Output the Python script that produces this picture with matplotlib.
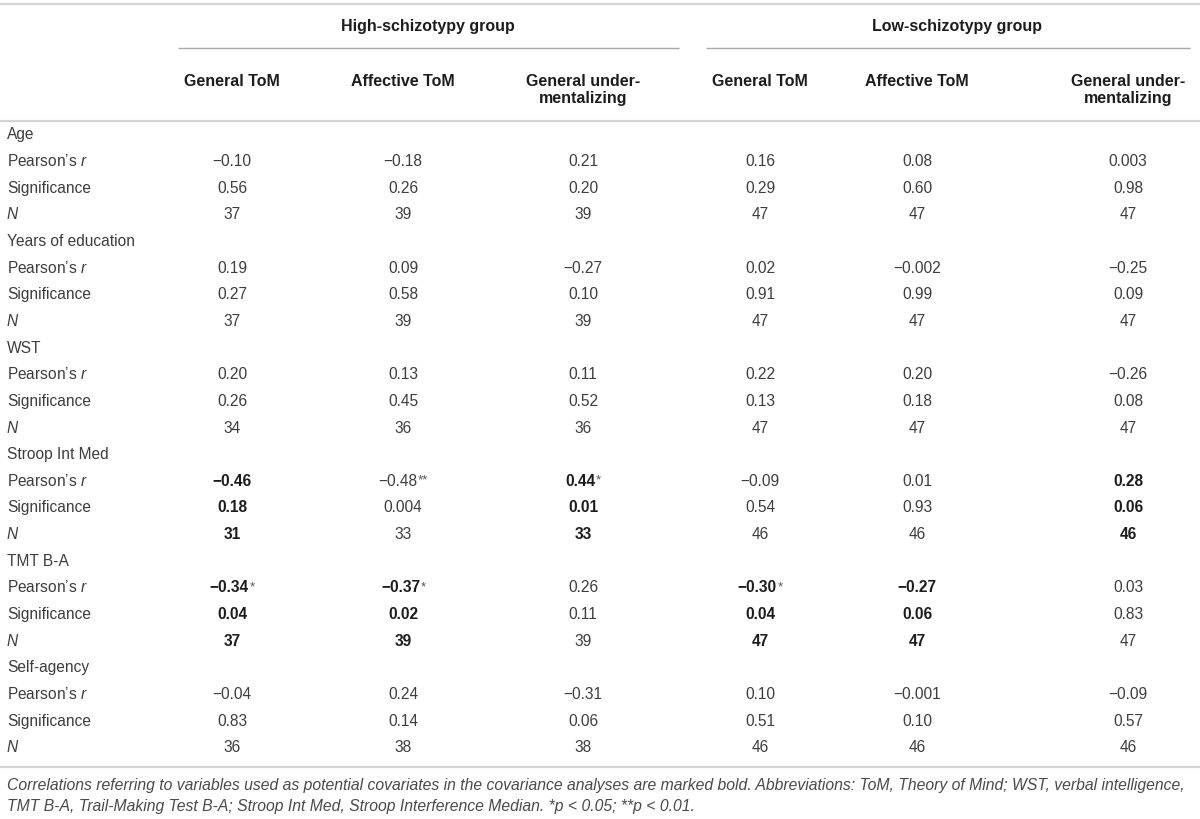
import matplotlib
matplotlib.use("Agg")
import matplotlib.pyplot as plt

# ---------------- data ----------------
groups = ["High-schizotypy group", "Low-schizotypy group"]
columns = ["General ToM", "Affective ToM", "General under-\nmentalizing",
           "General ToM", "Affective ToM", "General under-\nmentalizing"]
sections = ["Age", "Years of education", "WST", "Stroop Int Med", "TMT B-A", "Self-agency"]

age_r = ["\u22120.10", "\u22120.18", "0.21", "0.16", "0.08", "0.003"]
age_p = ["0.56", "0.26", "0.20", "0.29", "0.60", "0.98"]
age_n = ["37", "39", "39", "47", "47", "47"]

edu_r = ["0.19", "0.09", "\u22120.27", "0.02", "\u22120.002", "\u22120.25"]
edu_p = ["0.27", "0.58", "0.10", "0.91", "0.99", "0.09"]
edu_n = ["37", "39", "39", "47", "47", "47"]

wst_r = ["0.20", "0.13", "0.11", "0.22", "0.20", "\u22120.26"]
wst_p = ["0.26", "0.45", "0.52", "0.13", "0.18", "0.08"]
wst_n = ["34", "36", "36", "47", "47", "47"]

stroop_r = ["\u22120.46", "\u22120.48", "0.44", "\u22120.09", "0.01", "0.28"]
stroop_stars = ["", "**", "*", "", "", ""]
stroop_p = ["0.18", "0.004", "0.01", "0.54", "0.93", "0.06"]
stroop_n = ["31", "33", "33", "46", "46", "46"]
stroop_bold = [0, 2, 5]

tmt_r = ["\u22120.34", "\u22120.37", "0.26", "\u22120.30", "\u22120.27", "0.03"]
tmt_stars = ["*", "*", "", "*", "", ""]
tmt_p = ["0.04", "0.02", "0.11", "0.04", "0.06", "0.83"]
tmt_n = ["37", "39", "39", "47", "47", "47"]
tmt_bold = [0, 1, 3, 4]

self_r = ["\u22120.04", "0.24", "\u22120.31", "0.10", "\u22120.001", "\u22120.09"]
self_p = ["0.83", "0.14", "0.06", "0.51", "0.10", "0.57"]
self_n = ["36", "38", "38", "46", "46", "46"]

footnote1 = ("Correlations referring to variables used as potential covariates in the covariance "
             "analyses are marked bold. Abbreviations: ToM, Theory of Mind; WST, verbal intelligence,")
footnote2 = ("TMT B-A, Trail-Making Test B-A; Stroop Int Med, Stroop Interference Median. "
             "*p < 0.05; **p < 0.01.")

# ---------------- layout ----------------
plt.rcParams['font.family'] = ['Liberation Sans', 'DejaVu Sans']
plt.rcParams['mathtext.fontset'] = 'custom'
plt.rcParams['mathtext.rm'] = 'Liberation Sans'
plt.rcParams['mathtext.it'] = 'Liberation Sans:italic'

W, H = 1200, 820
fig = plt.figure(figsize=(W / 100, H / 100), dpi=100)
ax = fig.add_axes([0, 0, 1, 1])
ax.set_xlim(0, W)
ax.set_ylim(H, 0)
ax.axis('off')
renderer = fig.canvas.get_renderer()

FS = 11.2
FSH = 11.5
REG = '#3d3d3d'
BLD = '#1c1c1c'
LINE = '#d4d4d4'

col_x = [232, 403, 583, 760, 917, 1128]
label_x = 7
row0 = 134
step = 26.65
base_off = 5.4

# rules
ax.plot([0, W], [5, 5], color=LINE, lw=1.6, solid_capstyle='butt')
ax.plot([178, 679], [49, 49], color='#a8a8a8', lw=1.0, solid_capstyle='butt')
ax.plot([706, 1190], [49, 49], color='#a8a8a8', lw=1.0, solid_capstyle='butt')
ax.plot([0, W], [122, 122], color=LINE, lw=1.6, solid_capstyle='butt')
ax.plot([0, W], [768, 768], color=LINE, lw=1.6, solid_capstyle='butt')

# group headers
ax.text(428, 26 + base_off, groups[0], ha='center', va='baseline', fontsize=FSH,
        fontweight='bold', color=BLD)
ax.text(957, 26 + base_off, groups[1], ha='center', va='baseline', fontsize=FSH,
        fontweight='bold', color=BLD)

# column headers
for x, c in zip(col_x, columns):
    for k, line in enumerate(c.split("\n")):
        ax.text(x, 81 + base_off + k * 16.5, line, ha='center', va='baseline',
                fontsize=FSH, fontweight='bold', color=BLD)


def wpx(t):
    return t.get_window_extent(renderer).width


def cell(x, y, val, star, bold):
    t = ax.text(x, y, val, ha='center', va='baseline', fontsize=FS,
                fontweight='bold' if bold else 'normal', color=BLD if bold else REG)
    if star:
        s = ax.text(0, y - 2.5, star, ha='left', va='baseline', fontsize=9.5, color='#555555')
        wt, ws = wpx(t), wpx(s)
        left = x - (wt + ws) / 2
        t.set_ha('left')
        t.set_x(left)
        s.set_x(left + wt + 0.5)


section_data = [
    (age_r, [""] * 6, age_p, age_n, []),
    (edu_r, [""] * 6, edu_p, edu_n, []),
    (wst_r, [""] * 6, wst_p, wst_n, []),
    (stroop_r, stroop_stars, stroop_p, stroop_n, stroop_bold),
    (tmt_r, tmt_stars, tmt_p, tmt_n, tmt_bold),
    (self_r, [""] * 6, self_p, self_n, []),
]

row = 0
for name, (rv, st, pv, nv, bold) in zip(sections, section_data):
    y = row0 + row * step + base_off
    ax.text(label_x, y, name, ha='left', va='baseline', fontsize=FS, color=REG)
    row += 1
    # Pearson's r
    y = row0 + row * step + base_off
    ax.text(label_x, y, "Pearson\u2019s $\\mathit{r}$", ha='left', va='baseline',
            fontsize=FS, color=REG)
    for j in range(6):
        cell(col_x[j], y, rv[j], st[j], j in bold)
    row += 1
    y = row0 + row * step + base_off
    ax.text(label_x, y, "Significance", ha='left', va='baseline', fontsize=FS, color=REG)
    for j in range(6):
        cell(col_x[j], y, pv[j], "", j in bold)
    row += 1
    y = row0 + row * step + base_off
    ax.text(label_x, y, "N", ha='left', va='baseline', fontsize=FS, color=REG,
            fontstyle='italic')
    for j in range(6):
        cell(col_x[j], y, nv[j], "", j in bold)
    row += 1

# footnote
f1 = ax.text(label_x, 786 + 4.5, footnote1, ha='left', va='baseline', fontsize=10,
             fontstyle='italic', color='#4a4a4a')
scale = 1183 / wpx(f1)
fs_foot = 10 * scale
f1.set_fontsize(fs_foot)
ax.text(label_x, 807 + 4.5, footnote2, ha='left', va='baseline', fontsize=fs_foot,
        fontstyle='italic', color='#4a4a4a')

fig.savefig("out.png", dpi=100)
